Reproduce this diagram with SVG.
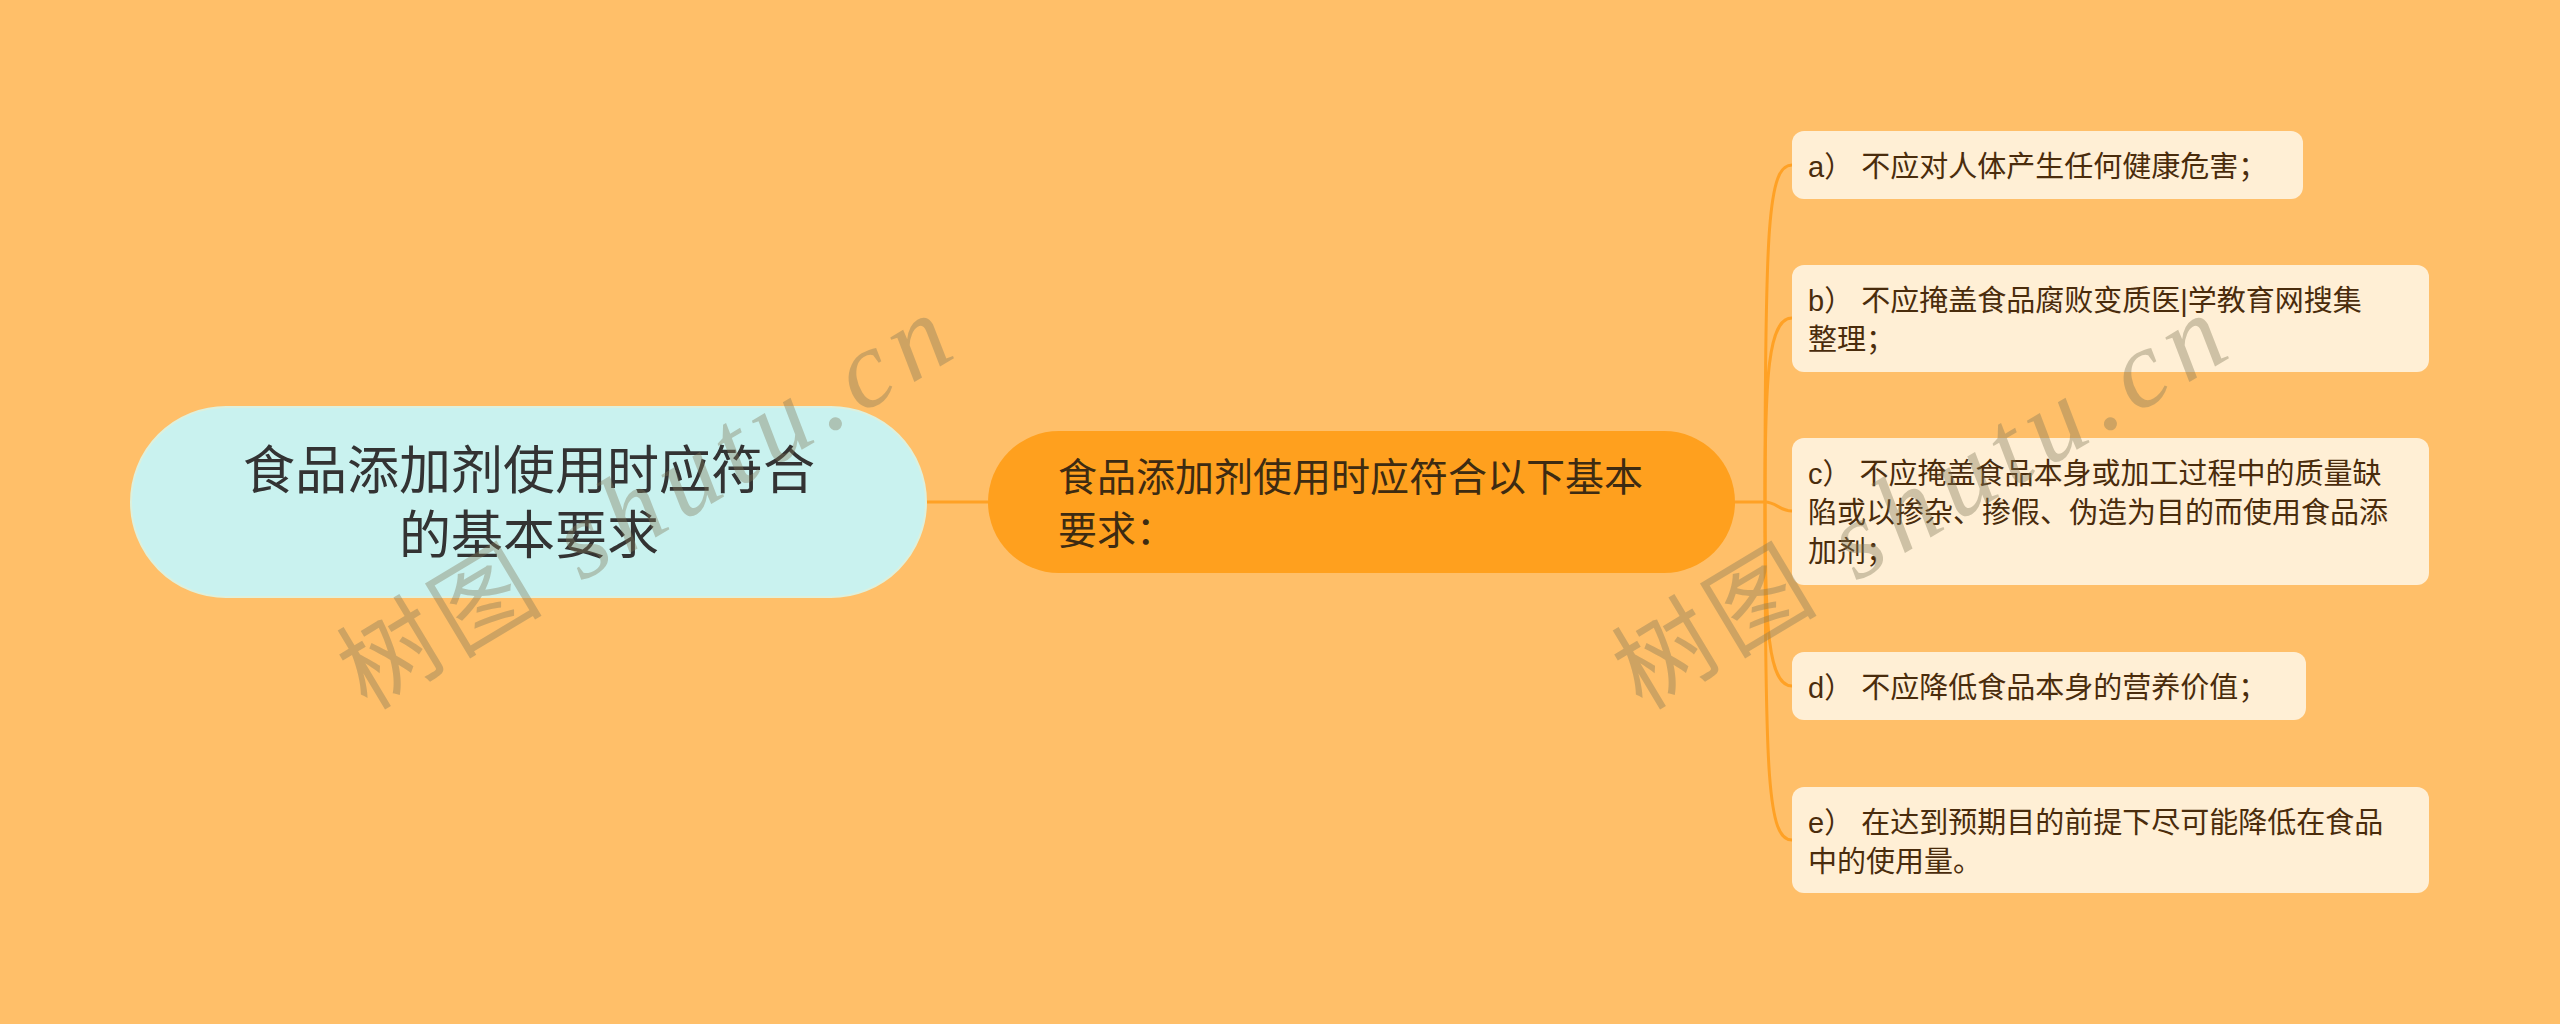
<svg xmlns="http://www.w3.org/2000/svg" width="2560" height="1024" viewBox="0 0 2560 1024">
  <style>
    .bg { fill: #FFBF69; }
    .root-box { fill: #C9F2EF; stroke: #DDF0DC; stroke-width: 2; }
    .root-text { font-family: "Liberation Sans", "Noto Sans CJK SC", sans-serif; font-size: 52px; fill: #333333; text-anchor: middle; }
    .main-box { fill: #FFA01E; }
    .main-text { font-family: "Liberation Sans", "Noto Sans CJK SC", sans-serif; font-size: 39px; fill: #3D2B12; }
    .leaf-box { fill: #FFEFD5; }
    .leaf-text { font-family: "Liberation Sans", "Noto Sans CJK SC", sans-serif; font-size: 29px; fill: #4A2C0C; }
    .conn { fill: none; stroke: #FFA125; stroke-width: 3; }
    .wm { font-family: "Liberation Serif", "Noto Sans CJK SC", serif; fill: #807858; opacity: 0.38; }
    .wm-cjk { font-size: 100px; }
    .wm-lat { font-size: 110px; font-style: italic; letter-spacing: 10px; }
  </style>

  <rect class="bg" x="0" y="0" width="2560" height="1024"/>

  <g id="connectors">
    <path class="conn" d="M 926 502 L 988 502"/>
    <path class="conn" d="M 1735 502 L 1765 502"/>
    <path class="conn" d="M 1765 502 C 1765 225, 1768 165, 1792 165"/>
    <path class="conn" d="M 1765 502 C 1765 378, 1768 318, 1792 318"/>
    <path class="conn" d="M 1765 502 C 1776 502, 1780 511, 1792 511"/>
    <path class="conn" d="M 1765 502 C 1765 626, 1768 686, 1792 686"/>
    <path class="conn" d="M 1765 502 C 1765 780, 1768 840, 1792 840"/>
  </g>

  <g id="root">
    <rect class="root-box" x="131" y="407" width="795" height="190" rx="95" ry="95"/>
    <text class="root-text" x="529" y="489">食品添加剂使用时应符合</text>
    <text class="root-text" x="529" y="554">的基本要求</text>
  </g>

  <g id="main">
    <rect class="main-box" x="988" y="431" width="747" height="142" rx="71" ry="71"/>
    <text class="main-text" x="1058" y="491">食品添加剂使用时应符合以下基本</text>
    <text class="main-text" x="1058" y="544">要求：</text>
  </g>

  <g id="item-a">
    <rect class="leaf-box" x="1792" y="131" width="511" height="68" rx="12" ry="12"/>
    <text class="leaf-text" x="1808" y="177">a） 不应对人体产生任何健康危害；</text>
  </g>

  <g id="item-b">
    <rect class="leaf-box" x="1792" y="265" width="637" height="107" rx="12" ry="12"/>
    <text class="leaf-text" x="1808" y="311">b） 不应掩盖食品腐败变质医|学教育网搜集</text>
    <text class="leaf-text" x="1808" y="350">整理；</text>
  </g>

  <g id="item-c">
    <rect class="leaf-box" x="1792" y="438" width="637" height="147" rx="12" ry="12"/>
    <text class="leaf-text" x="1808" y="484">c） 不应掩盖食品本身或加工过程中的质量缺</text>
    <text class="leaf-text" x="1808" y="523">陷或以掺杂、掺假、伪造为目的而使用食品添</text>
    <text class="leaf-text" x="1808" y="562">加剂；</text>
  </g>

  <g id="item-d">
    <rect class="leaf-box" x="1792" y="652" width="514" height="68" rx="12" ry="12"/>
    <text class="leaf-text" x="1808" y="698">d） 不应降低食品本身的营养价值；</text>
  </g>

  <g id="item-e">
    <rect class="leaf-box" x="1792" y="787" width="637" height="106" rx="12" ry="12"/>
    <text class="leaf-text" x="1808" y="833">e） 在达到预期目的前提下尽可能降低在食品</text>
    <text class="leaf-text" x="1808" y="872">中的使用量。</text>
  </g>

  <g id="watermarks">
    <text class="wm" transform="translate(367 711) rotate(-31)"><tspan class="wm-cjk" x="0">树</tspan><tspan class="wm-cjk" x="107">图</tspan><tspan class="wm-lat" x="250">shutu.cn</tspan></text>
    <text class="wm" transform="translate(1642 711) rotate(-31)"><tspan class="wm-cjk" x="0">树</tspan><tspan class="wm-cjk" x="107">图</tspan><tspan class="wm-lat" x="250">shutu.cn</tspan></text>
  </g>
</svg>
